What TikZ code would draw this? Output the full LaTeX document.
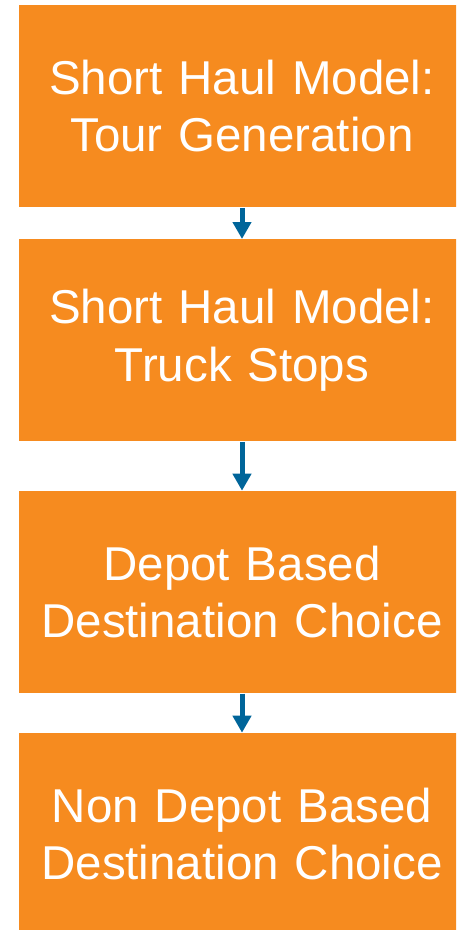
\documentclass[tikz,border=0pt]{standalone}
\usepackage{fontspec}
\setmainfont{Liberation Sans}
\usetikzlibrary{arrows.meta}
\definecolor{boxorange}{HTML}{F68B1F}
\definecolor{arrowblue}{HTML}{00659A}
\tikzset{
  stepbox/.style={fill=boxorange, draw=none, text=white, inner sep=0pt,
    minimum width=446pt, minimum height=202pt, text width=446pt, align=center,
    anchor=north, font=\fontsize{47.5}{57.3}\selectfont},
  flowarrow/.style={draw=arrowblue, line width=5pt,
    -{Triangle[width=18pt,length=17pt]}, shorten <=0.5pt}
}
\begin{document}
\begin{tikzpicture}[x=1pt,y=-1pt]
\useasboundingbox (0,0) rectangle (456,930);
\clip (0,0) rectangle (456,930);
\node[stepbox] (b1) at (242,5) {Short Haul Model:\\Tour Generation};
\node[stepbox] (b2) at (242,239) {Short Haul Model:\\Truck Stops};
\node[stepbox] (b3) at (242,490.7) {Depot Based\\Destination Choice};
\node[stepbox] (b4) at (242,732.7) {Non Depot Based\\Destination Choice};
\draw[flowarrow] (b1.south) -- (b2.north);
\draw[flowarrow] (b2.south) -- (b3.north);
\draw[flowarrow] (b3.south) -- (b4.north);
\end{tikzpicture}
\end{document}
